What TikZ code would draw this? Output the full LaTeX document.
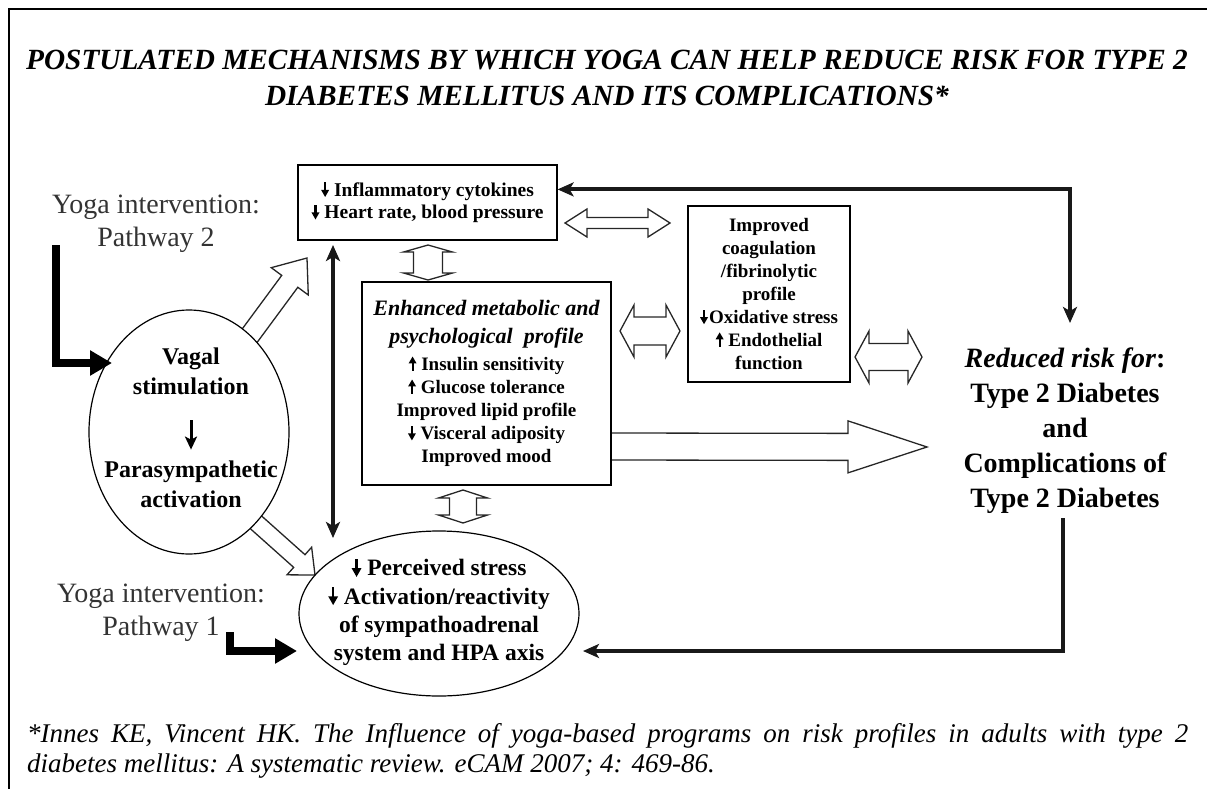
\documentclass[tikz,border=0pt]{standalone}
\usepackage{fontspec}
\setmainfont{Liberation Serif}
\usetikzlibrary{calc,arrows.meta,shapes.geometric}
\pgfdeclarelayer{bg}
\pgfsetlayers{bg,main}

% hollow single block arrow: start, tip, shaft half width, head half width, head length
\newcommand\hollowsingle[5]{%
  \coordinate (hsH) at ($(#2)!#5!(#1)$);
  \draw[hollowarr] ($(#1)!#3!90:(#2)$) -- ($(hsH)!#3!-90:(#1)$) -- ($(hsH)!#4!-90:(#1)$) -- (#2)
    -- ($(hsH)!#4!90:(#1)$) -- ($(hsH)!#3!90:(#1)$) -- ($(#1)!#3!-90:(#2)$) -- cycle;}
% hollow double block arrow
\newcommand\hollowdouble[5]{%
  \coordinate (hdA) at ($(#1)!#5!(#2)$);
  \coordinate (hdB) at ($(#2)!#5!(#1)$);
  \draw[hollowarr] (#1) -- ($(hdA)!#4!90:(#2)$) -- ($(hdA)!#3!90:(#2)$) -- ($(hdB)!#3!-90:(#1)$)
    -- ($(hdB)!#4!-90:(#1)$) -- (#2) -- ($(hdB)!#4!90:(#1)$) -- ($(hdB)!#3!90:(#1)$)
    -- ($(hdA)!#3!-90:(#2)$) -- ($(hdA)!#4!-90:(#2)$) -- cycle;}
% small solid up / down arrows set in text; argument = font size in pt
\newcommand\dnar[1]{\tikz[baseline=0pt]{\fill ({-0.055*#1pt},{0.72*#1pt}) rectangle ({0.055*#1pt},{0.28*#1pt});
  \fill ({-0.21*#1pt},{0.33*#1pt}) -- ({0.21*#1pt},{0.33*#1pt}) -- (0pt,{-0.04*#1pt}) -- cycle;}}
\newcommand\upar[1]{\tikz[baseline=0pt]{\fill ({-0.055*#1pt},{-0.03*#1pt}) rectangle ({0.055*#1pt},{0.42*#1pt});
  \fill ({-0.21*#1pt},{0.38*#1pt}) -- ({0.21*#1pt},{0.38*#1pt}) -- (0pt,{0.74*#1pt}) -- cycle;}}

\begin{document}
\begin{tikzpicture}[x=1pt,y=-1pt,
  every node/.style={inner sep=0pt, text=black},
  box/.style={draw, line width=1.2pt, fill=white, align=center, font=\fontsize{19}{23}\selectfont\bfseries},
  ell/.style={draw, ellipse, line width=1.2pt, fill=white, inner sep=0pt},
  hollowarr/.style={draw=black!85, line width=1.3pt, fill=white, line join=miter},
  blk/.style={line width=4pt, draw=black!90},
  stl/.style={-{Stealth[length=16pt,width=14pt,inset=4pt]}},
  stlboth/.style={{Stealth[length=16pt,width=14pt,inset=4pt]}-{Stealth[length=16pt,width=14pt,inset=4pt]}},
  fatarr/.style={line width=8pt, draw=black, -{Triangle[length=22pt,width=24pt]}},
  yogatxt/.style={font=\fontsize{28}{33}\selectfont, text=black!80},
]
\useasboundingbox (0,0) rectangle (1207,789);
\draw[line width=2.5pt] (9,789) -- (9,9) -- (1207,9);

% title
\node[align=center, font=\fontsize{29.3}{36}\selectfont\bfseries\itshape] (title) at (607,78.4)
  {POSTULATED MECHANISMS BY WHICH YOGA CAN HELP REDUCE RISK FOR TYPE 2\\DIABETES MELLITUS AND ITS COMPLICATIONS*};

% boxes
\node[box, font=\fontsize{19.5}{22.5}\selectfont\bfseries, minimum width=259pt, minimum height=75pt] (topbox) at (427.5,202.5)
  {\dnar{19.5}\ Inflammatory cytokines\\\dnar{19.5}\ Heart rate, blood pressure};
\node[box, minimum width=249pt, minimum height=203pt] (ctrbox) at (486.5,383.5)
  {{\fontsize{22}{23}\selectfont\itshape Enhanced metabolic and}\\[5pt]
   {\fontsize{22}{23}\selectfont\itshape psychological\ \ profile}\\[4pt]
   \upar{19}\ Insulin sensitivity\\\upar{19}\ Glucose tolerance\\Improved lipid profile\\\dnar{19}\ Visceral adiposity\\Improved mood};
\node[box, minimum width=162pt, minimum height=176pt] (rbox) at (769,294)
  {Improved\\coagulation\\/fibrinolytic\\profile\\\dnar{19}\kern1pt Oxidative stress\\\upar{19}\ Endothelial\\function};
\node[align=center, font=\fontsize{28}{35}\selectfont\bfseries] (rtext) at (1065,430.5)
  {{\itshape Reduced risk for}:\\Type 2 Diabetes\\and\\Complications of\\Type 2 Diabetes};

% left ellipse
\node[ell, minimum width=200pt, minimum height=244pt] (leftell) at (189,432) {};
\node[align=center, font=\fontsize{24}{30}\selectfont\bfseries] (vs) at (191,371.75) {Vagal\\stimulation};
\node[align=center, font=\fontsize{24}{30}\selectfont\bfseries] (pa) at (191,484.75) {Parasympathetic\\activation};
\draw[line width=3pt, -{Stealth[length=13pt,width=12pt,inset=3pt]}, shorten <=25pt, shorten >=11.5pt] (vs.south) -- (pa.north);

% bottom ellipse
\node[ell, minimum width=280pt, minimum height=165pt] (botell) at (439,613.5) {};
\node[align=center, font=\fontsize{23.5}{28.2}\selectfont\bfseries] (bottxt) at (439,612.3)
  {\dnar{23.5}\ Perceived stress\\\dnar{23.5}\ Activation/reactivity\\of sympathoadrenal\\system and HPA axis};

% yoga labels
\node[align=center, yogatxt] (yoga2) at (156,223.7) {Yoga intervention:\\Pathway 2};
\node[align=center, yogatxt] (yoga1) at (161,612.8) {Yoga intervention:\\Pathway 1};

% citation
\node[anchor=north west, text width=1161pt, align=justify, font=\fontsize{27}{30}\selectfont\itshape] (cite) at (27,723.6)
  {\tolerance=10000 *Innes KE, Vincent HK. The Influence of yoga-based programs on risk profiles in adults with type 2\linebreak diabetes mellitus: A systematic review. eCAM 2007; 4: 469-86.};

% black connectors
\coordinate (rtTop) at (1070,323);
\coordinate (rtBot) at (1063,518);
\coordinate (botIn) at (583,651);
\coordinate (vdTop) at (333,245);
\coordinate (vdBot) at (333,538);
\draw[blk, stlboth] ($(topbox.north east)+(0,25)$) -| (rtTop);
\draw[blk, stl] (rtBot) |- (botIn);
\draw[blk, stlboth] (vdTop) -- (vdBot);

% pathway arrows
\coordinate (p2s) at (56,245);
\coordinate (vagIn) at (112,363);
\draw[fatarr] (p2s) |- (vagIn);
\coordinate (p1s) at (229.5,632);
\coordinate (stressIn) at (297,651);
\draw[fatarr] (p1s) |- (stressIn);

% hollow block arrows
\begin{pgfonlayer}{bg}
\hollowdouble{565,223}{670,223}{5.5pt}{14pt}{22pt}
\hollowdouble{620,331}{680,331}{14pt}{26pt}{14pt}
\hollowdouble{855,357}{922,357}{13.5pt}{26pt}{14pt}
\hollowdouble{428,245}{428,280}{14.5pt}{24.5pt}{7pt}
\hollowdouble{463,490}{463,523}{13.5pt}{24.5pt}{8pt}
\hollowsingle{605,446.5}{927,447}{13.5pt}{26pt}{79pt}
\hollowsingle{245,342}{307,258}{10pt}{23pt}{29pt}
\hollowsingle{250,517}{315,575}{8.5pt}{18.5pt}{21pt}
\end{pgfonlayer}
\end{tikzpicture}
\end{document}
